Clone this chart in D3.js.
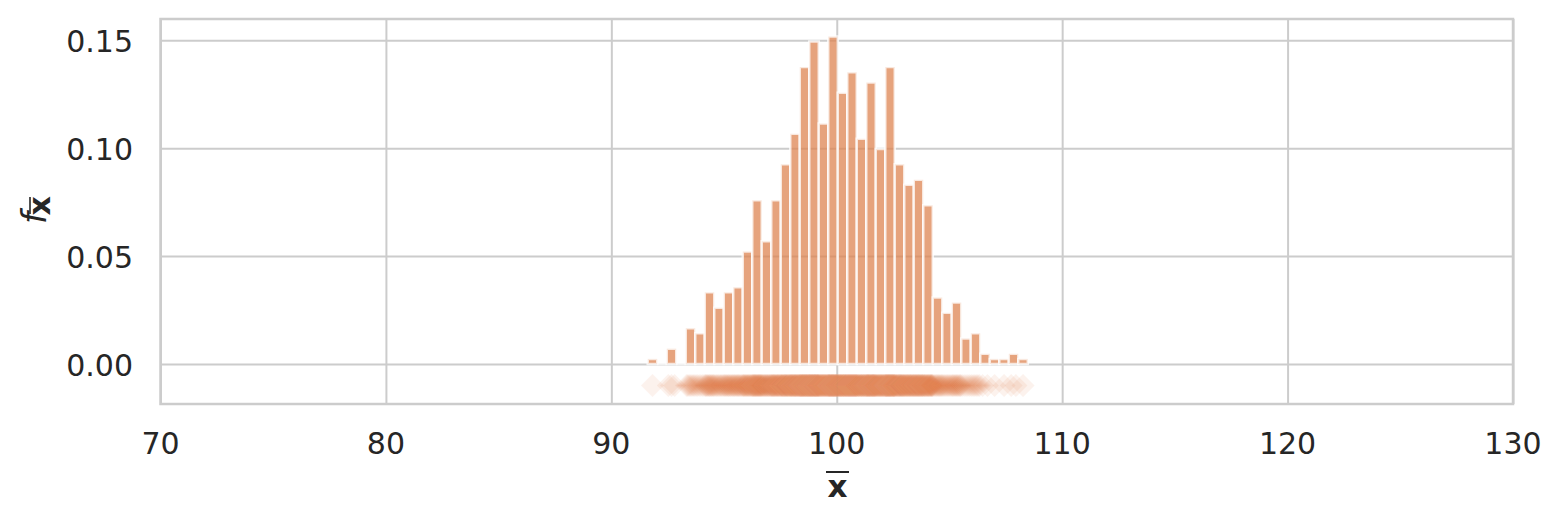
<!DOCTYPE html>
<html>
<head>
<meta charset="utf-8">
<script src="https://cdn.jsdelivr.net/npm/d3@7"></script>
<style>
  html, body { margin: 0; padding: 0; background: #fff; }
  svg { display: block; font-family: "DejaVu Sans", sans-serif; }
</style>
</head>
<body>
<svg id="chart" width="1562" height="523"></svg>
<script>
// ---- data ----
const sampleSize = 1000;
const binStart = 91.615;
const binWidth = 0.4215;
const binCounts = [1, 0, 3, 0, 7, 6, 14, 11, 14, 15,
                   22, 32, 24, 32, 39, 45, 58, 63, 47, 64,
                   53, 57, 44, 55, 42, 58, 39, 35, 36, 31,
                   13, 10, 12, 5, 6, 2, 1, 1, 2, 1];
const rugLevel = -0.01;
const xTicks = [70, 80, 90, 100, 110, 120, 130];
const yTicks = [0.00, 0.05, 0.10, 0.15];
const xDomain = [70, 130];
const yDomain = [-0.01854, 0.1599];

// ---- derived ----
const bins = binCounts.map((c, i) => ({
  x0: binStart + i * binWidth,
  x1: binStart + (i + 1) * binWidth,
  density: c / (sampleSize * binWidth),
  count: c
}));
const rugPoints = [];
bins.forEach(b => {
  for (let k = 0; k < b.count; k++) {
    rugPoints.push(b.x0 + (k + 0.5) / b.count * binWidth);
  }
});

// ---- layout ----
const L = 160.5, R = 1513, T = 19, B = 404;
const svg = d3.select("#chart");
const x = d3.scaleLinear().domain(xDomain).range([L, R]);
const y = d3.scaleLinear().domain(yDomain).range([B, T]);
const grid = "#cccccc", txt = "#262626", col = "#dd8452";

// gridlines via axes
const gx = svg.append("g").attr("transform", `translate(0,${B})`)
  .call(d3.axisBottom(x).tickValues(xTicks).tickSize(-(B - T)).tickFormat(""));
gx.select(".domain").remove();
gx.selectAll("line").attr("stroke", grid).attr("stroke-width", 2);

const gy = svg.append("g").attr("transform", `translate(${L},0)`)
  .call(d3.axisLeft(y).tickValues(yTicks).tickSize(-(R - L)).tickFormat(""));
gy.select(".domain").remove();
gy.selectAll("line").attr("stroke", grid).attr("stroke-width", 2);

// clip
svg.append("clipPath").attr("id", "clip").append("rect")
  .attr("x", L).attr("y", T).attr("width", R - L).attr("height", B - T);

const plot = svg.append("g").attr("clip-path", "url(#clip)");

// histogram bars
plot.append("g").selectAll("path").data(bins).join("path")
  .attr("d", d => {
    const xa = x(d.x0), xb = x(d.x1), ya = y(0), yb = y(d.density);
    return `M${xa},${ya}H${xb}V${yb}H${xa}Z`;
  })
  .attr("fill", col).attr("fill-opacity", 0.75)
  .attr("stroke", "#fff").attr("stroke-opacity", 0.75).attr("stroke-width", 2.5)
  .attr("stroke-linejoin", "miter");

// rug diamonds
const dm = 11.5;
plot.append("g").selectAll("path").data(rugPoints).join("path")
  .attr("d", d => {
    const cx = x(d), cy = y(rugLevel);
    return `M${cx},${cy - dm}L${cx + dm},${cy}L${cx},${cy + dm}L${cx - dm},${cy}Z`;
  })
  .attr("fill", col).attr("fill-opacity", 0.1)
  .attr("stroke", "#fff").attr("stroke-opacity", 0.06).attr("stroke-width", 0.6);

// frame
svg.append("rect").attr("x", L).attr("y", T).attr("width", R - L).attr("height", B - T)
  .attr("fill", "none").attr("stroke", grid).attr("stroke-width", 2.5);

// tick labels
const fmt = d3.format(".2f");
svg.append("g").selectAll("text").data(yTicks).join("text")
  .attr("x", 133).attr("y", d => y(d) + 12)
  .attr("text-anchor", "end").attr("font-size", 30).attr("fill", txt)
  .text(d => fmt(d));
svg.append("g").selectAll("text").data(xTicks).join("text")
  .attr("x", d => x(d)).attr("y", 453.5)
  .attr("text-anchor", "middle").attr("font-size", 30).attr("fill", txt)
  .text(d => d);

// x label: bold x with overline
svg.append("text").attr("x", 837.5).attr("y", 497)
  .attr("text-anchor", "middle").attr("font-size", 31).attr("font-weight", "bold")
  .attr("fill", txt).text("x");
svg.append("line").attr("x1", 826).attr("x2", 849).attr("y1", 472).attr("y2", 472)
  .attr("stroke", txt).attr("stroke-width", 2);

// y label: f with subscript bold x-bar, rotated
const yl = svg.append("g").attr("transform", "translate(46,224) rotate(-90)");
yl.append("text").attr("x", 0).attr("y", 0)
  .attr("font-size", 34).attr("font-style", "italic").attr("fill", txt).text("f");
yl.append("text").attr("x", 8.5).attr("y", 4)
  .attr("font-size", 30).attr("font-weight", "bold").attr("fill", txt).text("x");
yl.append("line").attr("x1", 10).attr("x2", 27).attr("y1", -16).attr("y2", -16)
  .attr("stroke", txt).attr("stroke-width", 1.6);
</script>
</body>
</html>
